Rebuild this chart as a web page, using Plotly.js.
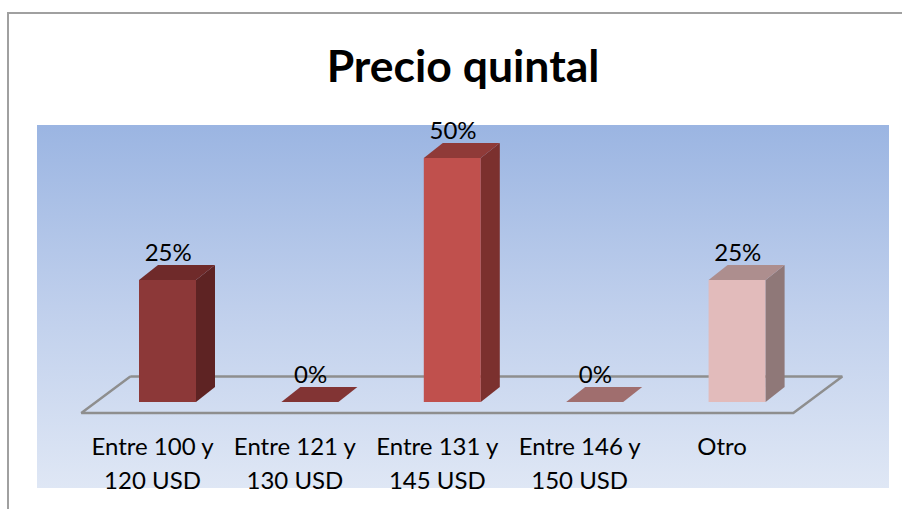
<!DOCTYPE html>
<html><head><meta charset="utf-8">
<script src="https://cdn.plot.ly/plotly-3.0.1.min.js"></script>
<style>html,body{margin:0;padding:0;background:#fff;overflow:hidden}#c{width:902px;height:509px}</style>
</head><body><div id="c"></div>
<script>
const categories = ["Entre 100 y<br>120 USD","Entre 121 y<br>130 USD","Entre 131 y<br>145 USD","Entre 146 y<br>150 USD","Otro"];
const values = [25, 0, 50, 0, 25];
const frontColors = ["#8C3838","#8C3838","#C0504D","#A87070","#E2BBBB"];
const topColors = ["#6F2A2A","#823434","#8F3A38","#A06E6E","#AD8E8E"];
const sideColors = ["#5E2323","#5E2323","#7B302E","#7A5050","#8F7878"];

// Pixel geometry of the plot frame, converted to axis units below
const W=902,H=509,L=37,R=889,T=125,B=488, axisPx=428;
const xUnit=142.4, x0Px=152.5, yUnit=4.88, y0Px=402;
const xRange=[(L-x0Px)/xUnit,(R-x0Px)/xUnit];
const yVal=p=>(y0Px-p)/yUnit;
const barW=57/xUnit, barShift=15/xUnit, dx=19/xUnit, dy=15/yUnit;
const floorDx=49/xUnit, floorFront=yVal(413), floorBack=yVal(376.5);
const idx=categories.map((_,i)=>i);
const font="Lato, Carlito, sans-serif";
const tickText=categories.map(c=>c.split("<br>").map(l=>`<span style="font-size:24px">${l}</span>`).join("<br>"));

const traces=[];
// background gradient
traces.push({type:"scatter",mode:"none",xaxis:"x",yaxis:"y",
  x:[xRange[0],xRange[1],xRange[1],xRange[0],xRange[0]],
  y:[yVal(B),yVal(B),yVal(T),yVal(T),yVal(B)],
  fill:"toself",fillgradient:{type:"vertical",colorscale:[[0,"#DFE7F5"],[0.5,"#BFCFEC"],[1,"#9BB5E2"]]},
  hoverinfo:"skip",showlegend:false});
// floor outline
traces.push({type:"scatter",mode:"lines",xaxis:"x",yaxis:"y",
  x:[-0.5+floorDx,-0.5,4.5,4.5+floorDx,-0.5+floorDx],
  y:[floorBack,floorFront,floorFront,floorBack,floorBack],
  line:{color:"#8E8E8E",width:2.4},hoverinfo:"skip",showlegend:false});
// front faces
traces.push({type:"bar",xaxis:"x",yaxis:"y2",x:idx,y:values,width:barW,
  offset:barShift-barW/2,marker:{color:frontColors},showlegend:false});
// side and top faces
values.forEach((v,i)=>{
  const a=i+barShift-barW/2,b=a+barW;
  if(v>0) traces.push({type:"scatter",mode:"none",xaxis:"x",yaxis:"y2",
    x:[b,b+dx,b+dx,b,b],y:[0,dy,v+dy,v,0],fill:"toself",fillcolor:sideColors[i],hoverinfo:"skip",showlegend:false});
  traces.push({type:"scatter",mode:"none",xaxis:"x",yaxis:"y2",
    x:[a,a+dx,b+dx,b,a],y:[v,v+dy,v+dy,v,v],fill:"toself",fillcolor:topColors[i],hoverinfo:"skip",showlegend:false});
});
// value labels
traces.push({type:"scatter",mode:"text",xaxis:"x",yaxis:"y2",cliponaxis:false,
  x:idx.map(i=>i+barShift+0.005),y:values.map(v=>v+5.1),text:values.map(v=>v+"%"),
  textposition:"middle center",textfont:{family:font,size:24,color:"#000"},hoverinfo:"skip",showlegend:false});

const layout={
  width:W,height:H,paper_bgcolor:"#fff",plot_bgcolor:"rgba(0,0,0,0)",showlegend:false,
  margin:{l:L,r:W-R,t:T,b:H-B,pad:0},
  title:{text:"<b>Precio quintal</b>",x:463/W,xanchor:"center",y:1-66/H,yanchor:"middle",
    font:{family:font,size:44.5,color:"#000"}},
  xaxis:{range:xRange,anchor:"y2",tickmode:"array",tickvals:idx,ticktext:tickText,showgrid:false,zeroline:false,
    showline:false,ticks:"",tickangle:0,tickfont:{family:font,size:26,color:"#000"}},
  yaxis:{domain:[0,1],range:[yVal(B),yVal(T)],anchor:"x",visible:false,fixedrange:true},
  yaxis2:{domain:[(B-axisPx)/(B-T),1],range:[yVal(axisPx),yVal(T)],anchor:"x",visible:false,fixedrange:true},
  shapes:[{type:"path",xref:"paper",yref:"paper",
    path:`M ${(W-L)/(R-L)} ${(B-13)/(B-T)} L ${(8-L)/(R-L)} ${(B-13)/(B-T)} L ${(8-L)/(R-L)} ${(B-H)/(B-T)}`,
    line:{color:"#A0A0A0",width:2}}]
};
Plotly.newPlot("c",traces,layout,{displayModeBar:false,staticPlot:true});
</script></body></html>
